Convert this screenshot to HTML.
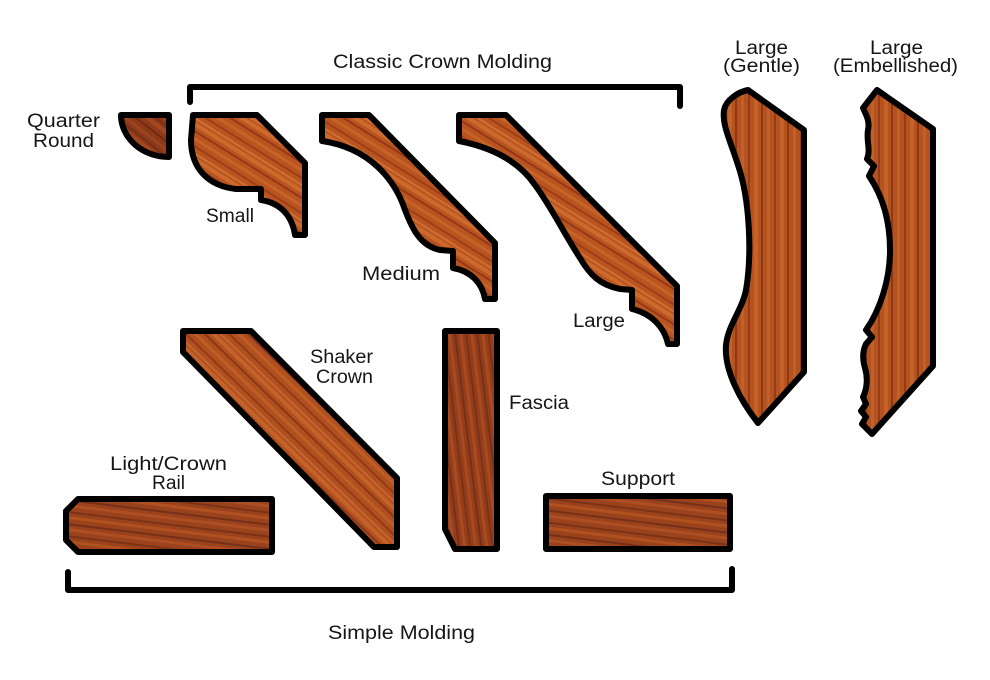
<!DOCTYPE html>
<html><head><meta charset="utf-8"><style>
html,body{margin:0;padding:0;background:#fff;}
svg{display:block;}
text{font-family:"Liberation Sans","DejaVu Sans",sans-serif;font-size:19px;fill:#161616;}
</style></head><body>
<svg width="990" height="680" viewBox="0 0 990 680" xmlns="http://www.w3.org/2000/svg">
<defs>
  <g id="st">
    <rect x="0" y="0" width="300" height="4" fill="var(--l)"/>
    <rect x="0" y="7" width="300" height="2" fill="var(--d)"/>
    <rect x="0" y="14" width="300" height="3" fill="var(--l)"/>
    <rect x="0" y="21" width="300" height="2" fill="var(--d)"/>
    <rect x="0" y="27" width="300" height="2" fill="var(--l)"/>
  </g>
  <pattern id="wCrown" patternUnits="userSpaceOnUse" width="300" height="30" patternTransform="rotate(32)">
    <rect width="300" height="30" fill="#b9541f"/>
    <rect y="0" width="300" height="4" fill="#cc6a2e"/>
    <rect y="7" width="300" height="2" fill="#93391a"/>
    <rect y="13" width="300" height="3" fill="#c66329"/>
    <rect y="20" width="300" height="2" fill="#9b3f1a"/>
    <rect y="26" width="300" height="2" fill="#cf6f33"/>
  </pattern>
  <pattern id="wShaker" patternUnits="userSpaceOnUse" width="300" height="30" patternTransform="rotate(44)">
    <rect width="300" height="30" fill="#b0501f"/>
    <rect y="0" width="300" height="4" fill="#c4622a"/>
    <rect y="7" width="300" height="2" fill="#8c3618"/>
    <rect y="13" width="300" height="3" fill="#bf5d27"/>
    <rect y="20" width="300" height="2" fill="#943a19"/>
    <rect y="26" width="300" height="2" fill="#c66530"/>
  </pattern>
  <pattern id="wQuarter" patternUnits="userSpaceOnUse" width="300" height="24" patternTransform="rotate(38)">
    <rect width="300" height="24" fill="#8e3918"/>
    <rect y="0" width="300" height="4" fill="#a4471f"/>
    <rect y="8" width="300" height="2" fill="#712a12"/>
    <rect y="14" width="300" height="3" fill="#9c4420"/>
    <rect y="20" width="300" height="2" fill="#75301a"/>
  </pattern>
  <pattern id="wRail" patternUnits="userSpaceOnUse" width="300" height="24" patternTransform="rotate(7)">
    <rect width="300" height="24" fill="#9a421c"/>
    <rect y="0" width="300" height="3" fill="#b0511f"/>
    <rect y="7" width="300" height="2" fill="#75301a"/>
    <rect y="12" width="300" height="3" fill="#ad4f22"/>
    <rect y="19" width="300" height="2" fill="#7c3216"/>
  </pattern>
  <pattern id="wFascia" patternUnits="userSpaceOnUse" width="300" height="22" patternTransform="rotate(83)">
    <rect width="300" height="22" fill="#953d1a"/>
    <rect y="0" width="300" height="3" fill="#a94b20"/>
    <rect y="6" width="300" height="2" fill="#73301a"/>
    <rect y="11" width="300" height="3" fill="#a64a21"/>
    <rect y="17" width="300" height="2" fill="#7a3216"/>
  </pattern>
  <pattern id="wVert" patternUnits="userSpaceOnUse" width="26" height="300">
    <rect width="26" height="300" fill="#b5531f"/>
    <rect x="0" width="4" height="300" fill="#c5622a"/>
    <rect x="7" width="2" height="300" fill="#8e3817"/>
    <rect x="13" width="3" height="300" fill="#c1602a"/>
    <rect x="20" width="2" height="300" fill="#963b19"/>
  </pattern>
</defs>

<!-- Brackets -->
<path d="M190 102 L190 87 L680 87 L680 106" fill="none" stroke="#000" stroke-width="6" stroke-linecap="round" stroke-linejoin="round"/>
<path d="M68 572 L68 590 L732 590 L732 569" fill="none" stroke="#000" stroke-width="6" stroke-linecap="round" stroke-linejoin="round"/>

<g stroke="#000" stroke-width="6" stroke-linejoin="round">
  <!-- Quarter round -->
  <path d="M121 115 L169 115 L169 157 A48 42 0 0 1 121 115 Z" fill="url(#wQuarter)"/>
  <!-- Small -->
  <path d="M193 115 L257 115 L305 163 L305 235 L295 235 C292 215 280 203 261 200 L261 189 L236 189 C208 186 191 168 191 140 Z" fill="url(#wCrown)"/>
  <!-- Medium -->
  <path d="M322 115 L369 115 L495 243 L495 299 L485 299 C482 282 470 271 453 268 L453 251 L440 250 C420 246 412 228 405 210 C395 180 370 148 322 141 Z" fill="url(#wCrown)"/>
  <!-- Large -->
  <path d="M459 115 L506 115 L677 286 L677 344 L668 344 C664 326 650 313 632 309 L632 290 L620 289 C600 285 590 275 580 258 C565 235 550 205 535 185 C520 163 495 148 459 141 Z" fill="url(#wCrown)"/>
  <!-- Large Gentle -->
  <path d="M748 90 L804 130 L804 372 L758 423 C740 400 724 370 726 345 C728 325 742 310 746 290 C752 255 750 200 738 165 C730 140 722 125 724 110 C726 100 738 92 748 90 Z" fill="url(#wVert)"/>
  <!-- Large Embellished -->
  <path d="M877 90 L933 129 L933 366 L872 434 L862 424 L866 417 L861 411 L866 404 L863 397 C867 389 868 378 865 368 C862 358 863 350 866 344 L872 337 L866 330 C880 310 890 280 890 250 C890 220 882 195 869 176 L874 166 L867 159 C871 150 866 140 868 130 C870 121 866 115 863 108 Z" fill="url(#wVert)"/>
  <!-- Shaker crown -->
  <path d="M183 331 L251 331 L397 478 L397 547 L374 547 L183 352 Z" fill="url(#wShaker)"/>
  <!-- Light/Crown rail -->
  <path d="M78 499 L272 499 L272 552 L78 552 L66 540 L66 511 Z" fill="url(#wRail)"/>
  <!-- Fascia -->
  <path d="M445 331 L497 331 L497 549 L455 549 L445 529 Z" fill="url(#wFascia)"/>
  <!-- Support -->
  <rect x="546" y="496" width="184" height="53" fill="url(#wRail)"/>
</g>

<!-- Labels -->
<text x="333" y="68" textLength="219" lengthAdjust="spacingAndGlyphs">Classic Crown Molding</text>
<text x="27" y="127" textLength="73" lengthAdjust="spacingAndGlyphs">Quarter</text>
<text x="33" y="147" textLength="61" lengthAdjust="spacingAndGlyphs">Round</text>
<text x="206" y="222" textLength="48" lengthAdjust="spacingAndGlyphs">Small</text>
<text x="362" y="280" textLength="78" lengthAdjust="spacingAndGlyphs">Medium</text>
<text x="573" y="327" textLength="52" lengthAdjust="spacingAndGlyphs">Large</text>
<text x="735" y="54" textLength="53" lengthAdjust="spacingAndGlyphs">Large</text>
<text x="723" y="72" textLength="77" lengthAdjust="spacingAndGlyphs">(Gentle)</text>
<text x="870" y="54" textLength="53" lengthAdjust="spacingAndGlyphs">Large</text>
<text x="833" y="72" textLength="125" lengthAdjust="spacingAndGlyphs">(Embellished)</text>
<text x="310" y="363" textLength="63" lengthAdjust="spacingAndGlyphs">Shaker</text>
<text x="316" y="383" textLength="57" lengthAdjust="spacingAndGlyphs">Crown</text>
<text x="110" y="470" textLength="117" lengthAdjust="spacingAndGlyphs">Light/Crown</text>
<text x="152" y="489" textLength="33" lengthAdjust="spacingAndGlyphs">Rail</text>
<text x="509" y="409" textLength="60" lengthAdjust="spacingAndGlyphs">Fascia</text>
<text x="601" y="485" textLength="74" lengthAdjust="spacingAndGlyphs">Support</text>
<text x="328" y="639" textLength="147" lengthAdjust="spacingAndGlyphs">Simple Molding</text>
</svg>
</body></html>
